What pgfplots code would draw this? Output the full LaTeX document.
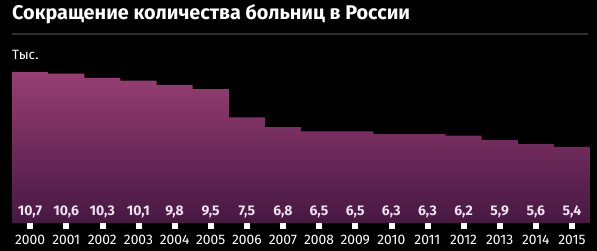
\documentclass[border=0pt]{standalone}
\usepackage{pgfplots}
\pgfplotsset{compat=1.18}
\usepackage{pgfplotstable}
\usepackage{fontspec}
\setmainfont{Fira Sans}
\definecolor{bartop}{RGB}{152,62,115}
\definecolor{barbot}{RGB}{70,24,66}
\definecolor{vallab}{RGB}{238,224,240}
\definecolor{rulegray}{RGB}{45,45,45}
\pgfplotstableread{
x y lab
0 10.7 {10,7}
1 10.6 {10,6}
2 10.3 {10,3}
3 10.1 {10,1}
4 9.8 {9,8}
5 9.5 {9,5}
6 7.5 {7,5}
7 6.8 {6,8}
8 6.5 {6,5}
9 6.5 {6,5}
10 6.3 {6,3}
11 6.3 {6,3}
12 6.2 {6,2}
13 5.9 {5,9}
14 5.6 {5,6}
15 5.4 {5,4}
}\datatable
\begin{document}
\begin{tikzpicture}
\fill[black] (0pt,0pt) rectangle (597pt,251pt);
\node[anchor=base west, inner sep=0pt, text=white, font=\fontsize{19.8}{20}\selectfont\bfseries] at (12pt,231.5pt) {Сокращение количества больниц в России};
\draw[rulegray, line width=1.2pt] (12pt,217pt) -- (588pt,217pt);
\node[anchor=base west, inner sep=0pt, text=white, font=\fontsize{13.5}{14}\selectfont] at (12pt,191.5pt) {Тыс.};
\begin{axis}[
  at={(12pt,28pt)}, anchor=south west,
  scale only axis,
  width=578pt, height=155pt,
  xmin=-0.5, xmax=15.5,
  ymin=0, ymax=11,
  axis line style={draw=none},
  major tick length=0pt,
  ytick=\empty,
  xtick={0,...,15},
  xticklabels={2000,2001,2002,2003,2004,2005,2006,2007,2008,2009,2010,2011,2012,2013,2014,2015},
  xticklabel style={anchor=base, yshift=-22pt, inner sep=0pt, text=white, font=\fontsize{13.8}{14}\selectfont},
  clip=false,
]
\addplot[ybar, bar width=1, draw=none, top color=bartop, bottom color=barbot] table[x=x, y=y] {\datatable};
\addplot[only marks, mark=none, nodes near coords, point meta=explicit symbolic,
  every node near coord/.append style={anchor=base, yshift=7.5pt, inner sep=0pt, text=vallab, font=\fontsize{14}{15}\selectfont\bfseries}]
  table[x=x, y expr=0, meta=lab] {\datatable};
\addplot[only marks, mark=square*, mark size=2.5pt, white, mark options={yshift=-2.8pt}] table[x=x, y expr=0] {\datatable};
\end{axis}
\pgfresetboundingbox
\path (0pt,0pt) rectangle (597pt,251pt);
\end{tikzpicture}
\end{document}
